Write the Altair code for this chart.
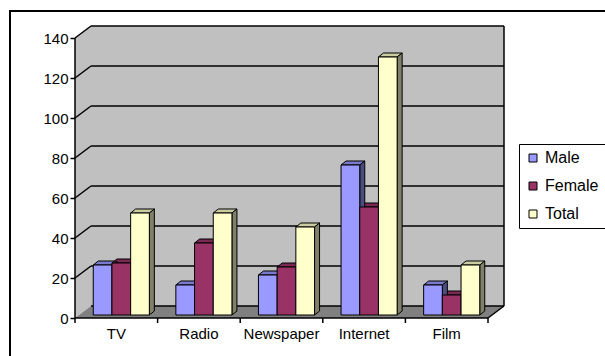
import altair as alt
import pandas as pd

# ---------------- data ----------------
categories = ["TV", "Radio", "Newspaper", "Internet", "Film"]
series = ["Male", "Female", "Total"]
male = [25, 15, 20, 75, 15]
female = [26, 36, 24, 54, 10]
total = [51, 51, 44, 129, 25]
y_ticks = [0, 20, 40, 60, 80, 100, 120, 140]

# ---------------- style ----------------
front_colors = ["#9999FF", "#993366", "#FFFFCC"]
top_colors = ["#7A7ACC", "#7A2952", "#CCCCA3"]
side_colors = ["#4C4C80", "#4D1A33", "#80806A"]
WALL = "#C0C0C0"
FLOOR = "#808080"
FONT = "Liberation Sans"

W, H = 429, 292
XU = 82.6                 # px per category
XMAX = W / XU
YMAX = 146
WX = XMAX - 5             # wall depth (x units)
WY = 6                    # wall depth (value units)
BW = 18.7 / XU            # bar width
BFX, BFY = 5 / XU, 1.5    # bar front-plane offset
BDX, BDY = 5 / XU, 2.0    # bar depth

xs = alt.Scale(domain=[0, XMAX], nice=False, zero=False)
ys = alt.Scale(domain=[0, YMAX], nice=False, zero=False)
yaxis = alt.Axis(values=y_ticks, tickSize=5, tickColor="black", tickWidth=1.5,
                 domain=False, grid=False, labelFontSize=15, labelFont=FONT,
                 labelColor="black", labelPadding=2, title=None)


def X(f):
    return alt.X(f, type="quantitative", scale=xs, axis=None)


def Y(f):
    return alt.Y(f, type="quantitative", scale=ys, axis=yaxis)


# ---------------- bar geometry tables ----------------
rows, side_rows, top_rows = [], [], []
for i, c in enumerate(categories):
    for j, (s, vals) in enumerate(zip(series, [male, female, total])):
        v = vals[i]
        x0 = i + 0.5 - 1.5 * BW + j * BW + BFX
        x1 = x0 + BW
        bid = f"{c}-{s}"
        rows.append(dict(id=bid, cat=c, series=s, value=v, x0=x0, x1=x1,
                         base=BFY, top=BFY + v))
        side_rows += [
            dict(id=bid, x=x1, y=BFY, y2=BFY + v, fill=side_colors[j]),
            dict(id=bid, x=x1 + BDX, y=BFY + BDY, y2=BFY + v + BDY, fill=side_colors[j]),
        ]
        top_rows += [
            dict(id=bid, y=BFY + v, x=x0, x2=x1, fill=top_colors[j]),
            dict(id=bid, y=BFY + v + BDY, x=x0 + BDX, x2=x1 + BDX, fill=top_colors[j]),
        ]
bars = pd.DataFrame(rows)
sides = pd.DataFrame(side_rows)
tops = pd.DataFrame(top_rows)

# ---------------- walls ----------------
left_wall = pd.DataFrame([dict(x=0, y=0, y2=140), dict(x=WX, y=WY, y2=140 + WY)])
back_wall = pd.DataFrame([dict(x=WX, x2=5 + WX, y=WY, y2=140 + WY)])
floor = pd.DataFrame([dict(y=0, x=0, x2=5), dict(y=WY, x=WX, x2=5 + WX)])

back_grid = pd.DataFrame([dict(x=WX, x2=5 + WX, y=t + WY) for t in y_ticks])
side_grid = pd.DataFrame([dict(x=0, x2=WX, y=t, y2=t + WY) for t in y_ticks if t > 0])
edges = pd.DataFrame([
    dict(x=5 + WX, x2=5 + WX, y=WY, y2=140 + WY),   # back wall right edge
    dict(x=5, x2=5 + WX, y=0, y2=WY),               # floor right edge
    dict(x=0, x2=5, y=0, y2=0),                     # front category axis
    dict(x=0, x2=0, y=0, y2=140),                   # value axis line
])
xticks = pd.DataFrame([dict(x=k, y=0, y2=-2.5) for k in range(6)])
labels = pd.DataFrame([dict(x=i + 0.5, y=0, cat=c) for i, c in enumerate(categories)])

# ---------------- layers ----------------
border = alt.Chart(pd.DataFrame({"a": [0]})).mark_rect(
    filled=False, stroke="black", strokeWidth=2
).encode(x=alt.value(-65), x2=alt.value(700), y=alt.value(-15), y2=alt.value(400))

lw = alt.Chart(left_wall).mark_area(orient="vertical", color=WALL).encode(
    x=X("x"), y=Y("y"), y2="y2")
bw_ = alt.Chart(back_wall).mark_rect(color=WALL).encode(
    x=X("x"), x2="x2", y=Y("y"), y2="y2")
fl = alt.Chart(floor).mark_area(orient="horizontal", color=FLOOR).encode(
    y=Y("y"), x=X("x"), x2="x2")

g1 = alt.Chart(back_grid).mark_rule(color="black", strokeWidth=1.5).encode(
    x=X("x"), x2="x2", y=Y("y"))
g2 = alt.Chart(side_grid).mark_rule(color="black", strokeWidth=1.5).encode(
    x=X("x"), x2="x2", y=Y("y"), y2="y2")
ed = alt.Chart(edges).mark_rule(color="black", strokeWidth=1.5).encode(
    x=X("x"), x2="x2", y=Y("y"), y2="y2")
tk = alt.Chart(xticks).mark_rule(color="black", strokeWidth=1.5).encode(
    x=X("x"), y=Y("y"), y2="y2")

top_l = alt.Chart(tops).mark_area(orient="horizontal", stroke="black", strokeWidth=1).encode(
    y=Y("y"), x=X("x"), x2="x2",
    fill=alt.Fill("fill:N", scale=None), detail="id:N")
side_l = alt.Chart(sides).mark_area(orient="vertical", stroke="black", strokeWidth=1).encode(
    x=X("x"), y=Y("y"), y2="y2",
    fill=alt.Fill("fill:N", scale=None), detail="id:N")
front_l = alt.Chart(bars).mark_rect(stroke="black", strokeWidth=1).encode(
    x=X("x0"), x2="x1", y=Y("base"), y2="top",
    color=alt.Color("series:N",
                    scale=alt.Scale(domain=series, range=front_colors),
                    legend=alt.Legend(orient="none", legendX=444, legendY=118,
                                      title=None, strokeColor="black",
                                      fillColor="white", padding=6,
                                      symbolType="square", symbolSize=64,
                                      symbolStrokeColor="black",
                                      symbolStrokeWidth=1, symbolOpacity=1,
                                      labelFontSize=16, labelFont=FONT,
                                      labelColor="black", rowPadding=12,
                                      labelOffset=4)))

txt = alt.Chart(labels).mark_text(
    fontSize=15, font=FONT, color="black", baseline="middle", dy=16
).encode(x=X("x"), y=Y("y"), text="cat:N")

chart = alt.layer(border, lw, bw_, fl, g1, g2, ed, tk, top_l, side_l, front_l, txt).properties(
    width=W, height=H,
    padding={"left": 75, "top": 26, "right": 101, "bottom": 38},
    autosize=alt.AutoSizeParams(type="none"),
).configure_view(stroke=None)

chart.save("out.html", embed_options={"renderer": "svg", "actions": False})
